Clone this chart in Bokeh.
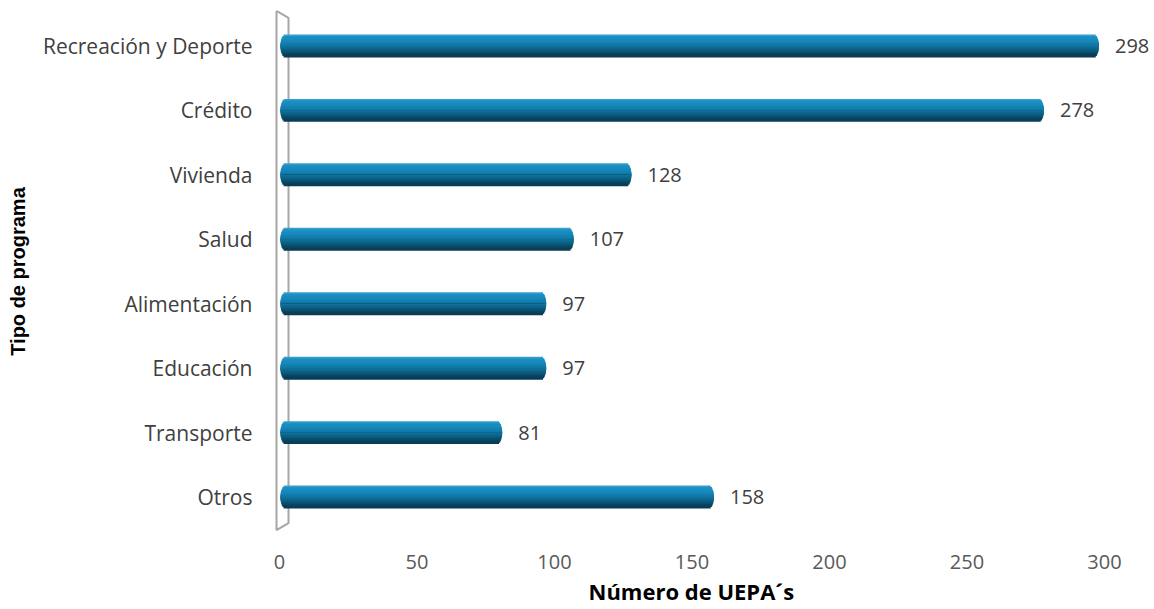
import numpy as np
from bokeh.plotting import figure
from bokeh.models import Range1d, FixedTicker, ColumnDataSource, LabelSet, Title
from bokeh.core.properties import value
from bokeh.embed import file_html
from bokeh.resources import INLINE

# ---- data (bottom to top) ----
categories = ["Otros", "Transporte", "Educación", "Alimentación", "Salud",
              "Vivienda", "Crédito", "Recreación y Deporte"]
counts = [158, 81, 97, 97, 107, 128, 278, 298]
x_ticks = [0, 50, 100, 150, 200, 250, 300]

pos = np.arange(len(categories), dtype=float)
vals = np.array(counts, dtype=float)

W, H = 1150, 609
px_per_unit = 2.75
zero_px = 279
frame_left = 262
frame_right = 1150
x0 = (frame_left - zero_px) / px_per_unit
x1 = (frame_right - zero_px) / px_per_unit

p = figure(width=W, height=H, output_backend="svg", toolbar_location=None,
           x_range=Range1d(x0, x1), y_range=Range1d(-0.55, 7.55),
           min_border_left=frame_left, min_border_right=W - frame_right,
           min_border_top=10, min_border_bottom=H - 532)
p.outline_line_color = None
p.grid.visible = False
p.background_fill_color = "white"
p.border_fill_color = "white"

# 3D wall on the left
wx0 = -3.0 / px_per_unit
wx1 = 9.0 / px_per_unit
p.patch([wx0, wx1, wx1, wx0], [7.543, 7.435, -0.404, -0.512],
        fill_color="white", line_color="#a6a6a6", line_width=2)

# cylinder bars built from horizontal bands
stops_t = [0.0, 0.08, 0.3, 0.5, 0.7, 0.88, 1.0]
stops_c = ["#4aa6cf", "#1c92c6", "#1686b9", "#0f74a1", "#0b5a7d", "#07405a", "#0a3a50"]
def hex2rgb(h):
    return np.array([int(h[i:i + 2], 16) for i in (1, 3, 5)], dtype=float)
stops_rgb = np.array([hex2rgb(c) for c in stops_c])

half = 0.178
N = 16
band = 2 * half / N
radius = 5.0 / px_per_unit

def band_color(tt):
    rgb = [np.interp(tt, stops_t, stops_rgb[:, k]) for k in range(3)]
    return "#%02x%02x%02x" % tuple(int(round(c)) for c in rgb)

# upper half: from top toward centre; lower half: from bottom toward centre
order = list(range(N // 2)) + list(range(N - 1, N // 2 - 1, -1))
for i in order:
    tt = (i + 0.5) / N
    tc = 2 * tt - 1
    inset = radius * (1 - np.sqrt(max(0.0, 1 - tc * tc)))
    if i < N // 2:
        top = pos + half - i * band
        bot = pos + 0.0 - 0.001
    else:
        top = pos + 0.001
        bot = pos + half - (i + 1) * band
    p.hbar(y=(top + bot) / 2, left=inset + 0.3, right=vals - inset,
           height=(top - bot)[0], fill_color=band_color(tt), line_color=None)

# value labels
src = ColumnDataSource(dict(x=vals, y=pos, t=[str(v) for v in counts]))
p.add_layout(LabelSet(x="x", y="y", text="t", source=src, x_offset=16,
                      text_baseline="middle", text_align="left",
                      text_font=value("Open Sans"), text_font_size="20px",
                      text_color="#404040"))

# axes
p.yaxis.ticker = FixedTicker(ticks=list(pos))
p.yaxis.major_label_overrides = {float(i): c for i, c in enumerate(categories)}
p.yaxis.major_label_text_font = "Open Sans"
p.yaxis.major_label_text_font_size = "21px"
p.yaxis.major_label_text_color = "#404040"
p.yaxis.major_label_standoff = 10
p.yaxis.axis_line_color = None
p.yaxis.major_tick_line_color = None
p.yaxis.major_tick_out = 0
p.yaxis.major_tick_in = 0
p.yaxis.minor_tick_line_color = None
p.yaxis.minor_tick_out = 0
p.yaxis.axis_label = "Tipo de programa"
p.yaxis.axis_label_text_font = "Liberation Sans"
p.yaxis.axis_label_text_font_style = "bold"
p.yaxis.axis_label_text_font_size = "20px"
p.yaxis.axis_label_text_color = "black"
p.yaxis.axis_label_standoff = 11

p.xaxis.ticker = FixedTicker(ticks=x_ticks)
p.xaxis.major_label_text_font = "Open Sans"
p.xaxis.major_label_text_font_size = "20px"
p.xaxis.major_label_text_color = "#595959"
p.xaxis.major_label_standoff = 22
p.xaxis.axis_line_color = None
p.xaxis.major_tick_line_color = None
p.xaxis.major_tick_out = 0
p.xaxis.major_tick_in = 0
p.xaxis.minor_tick_line_color = None
p.xaxis.minor_tick_out = 0

x_title = Title(text="Número de UEPA´s", align="left", offset=326,
                text_font="Open Sans", text_font_style="bold",
                text_font_size="22px", text_color="black", standoff=5)
p.add_layout(x_title, "below")

open("out.html", "w").write(file_html(p, INLINE))
